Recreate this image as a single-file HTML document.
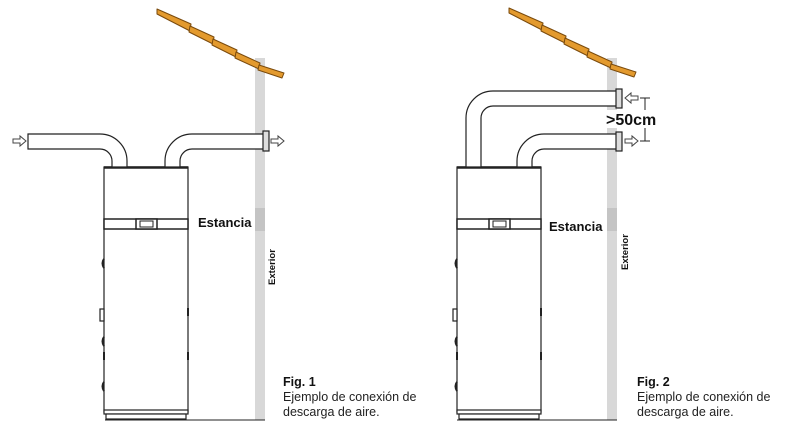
<!DOCTYPE html>
<html><head><meta charset="utf-8"><style>
html,body{margin:0;padding:0;background:#fff;}
svg{display:block;}
text{font-family:"Liberation Sans",sans-serif;}
</style></head><body>
<svg width="808" height="430" viewBox="0 0 808 430" xmlns="http://www.w3.org/2000/svg">
<defs>
<g id="tank" fill="none" stroke="#222" stroke-width="1.2">
  <rect x="104" y="167" width="84" height="245" fill="#fff"/>
  <line x1="104" y1="167.5" x2="188" y2="167.5" stroke-width="2.5"/>
  <rect x="104" y="219" width="84" height="10" fill="#fff" stroke-width="1.5"/>
  <rect x="136" y="219" width="21" height="10" fill="#fff" stroke-width="1.5"/>
  <rect x="140" y="221" width="13" height="6" fill="#fff" stroke-width="1"/>
  <rect x="104" y="410" width="84" height="4" fill="#fff"/>
  <rect x="106" y="414" width="80" height="5" fill="#fff"/>
  <path d="M104 259 q-3 4 0 9 M104 337 q-3 4 0 9 M104 382 q-3 4 0 9 M104 352 v8 M188 308 v8 M188 352 v8" stroke-width="2"/>
  <rect x="100" y="309" width="4" height="12" fill="#fff"/>
</g>
<g id="wall">
  <rect x="0" y="58" width="10" height="362" fill="#d8d8d8"/>
  <rect x="0" y="208" width="10" height="23" fill="#c4c4c4"/>
</g>
<g id="roof" fill="#e39a2e" stroke="#7a4a0c" stroke-width="1" stroke-linejoin="round">
  <polygon points="0,0 34,15 33,22 0,5"/>
  <polygon points="33,17 57,28 56,35 32,23"/>
  <polygon points="56,30 80,41 79,48 55,36"/>
  <polygon points="79,43 103,54 102,60 78,49"/>
  <polygon points="102,56 127,64 125,69 101,61"/>
</g>
<g id="arrowR"><polygon points="0,-2 7,-2 7,-5 13,0 7,5 7,2 0,2" fill="#fff" stroke="#444" stroke-width="1"/></g>
<g id="arrowL"><polygon points="13,-2 6,-2 6,-5 0,0 6,5 6,2 13,2" fill="#fff" stroke="#444" stroke-width="1"/></g>
</defs>

<!-- Figure 1 -->
<use href="#wall" x="255"/>
<use href="#roof" x="157" y="9"/>
<line x1="105" y1="420" x2="265" y2="420" stroke="#222" stroke-width="1"/>
<use href="#tank"/>
<g fill="#fff" stroke="#222" stroke-width="1.2">
  <path d="M28 134 H100 A27 27 0 0 1 127 161 V167 H112 V161 A12 12 0 0 0 100 149 H28 Z"/>
  <path d="M263 134 H192 A27 27 0 0 0 165 161 V167 H180 V161 A12 12 0 0 1 192 149 H263"/>
  <rect x="263" y="131" width="6" height="20" fill="#ddd"/>
</g>
<use href="#arrowR" x="13" y="141"/>
<use href="#arrowR" x="271" y="141"/>
<text x="198" y="227" font-size="13" font-weight="bold" fill="#111">Estancia</text>
<text transform="translate(275,285) rotate(-90)" font-size="9.5" font-weight="bold" fill="#111">Exterior</text>
<text x="283" y="386" font-size="12.5" font-weight="bold" fill="#111">Fig. 1</text>
<text x="283" y="401" font-size="12.5" fill="#222">Ejemplo de conexión de</text>
<text x="283" y="416" font-size="12.5" fill="#222">descarga de aire.</text>

<!-- Figure 2 -->
<use href="#wall" x="607"/>
<use href="#roof" x="509" y="8"/>
<line x1="457" y1="420" x2="617" y2="420" stroke="#222" stroke-width="1"/>
<use href="#tank" x="353"/>
<g fill="#fff" stroke="#222" stroke-width="1.2">
  <path d="M616 91 H493 A27 27 0 0 0 466 118 V167 H481 V118 A12 12 0 0 1 493 106 H616"/>
  <path d="M616 134 H544 A27 27 0 0 0 517 161 V167 H532 V161 A12 12 0 0 1 544 149 H616"/>
  <rect x="616" y="89" width="6" height="19" fill="#ddd"/>
  <rect x="616" y="132" width="6" height="19" fill="#ddd"/>
</g>
<use href="#arrowL" x="625" y="98"/>
<use href="#arrowR" x="625" y="141"/>
<g stroke="#222" stroke-width="1">
  <line x1="645" y1="98" x2="645" y2="141"/>
  <line x1="640" y1="98" x2="650" y2="98"/>
  <line x1="640" y1="141" x2="650" y2="141"/>
</g>
<rect x="606" y="110" width="52" height="18" fill="#fff"/>
<text x="606" y="125" font-size="16" font-weight="bold" fill="#111">&gt;50cm</text>
<text x="549" y="231" font-size="13" font-weight="bold" fill="#111">Estancia</text>
<text transform="translate(628,270) rotate(-90)" font-size="9.5" font-weight="bold" fill="#111">Exterior</text>
<text x="637" y="386" font-size="12.5" font-weight="bold" fill="#111">Fig. 2</text>
<text x="637" y="401" font-size="12.5" fill="#222">Ejemplo de conexión de</text>
<text x="637" y="416" font-size="12.5" fill="#222">descarga de aire.</text>
</svg>
</body></html>
